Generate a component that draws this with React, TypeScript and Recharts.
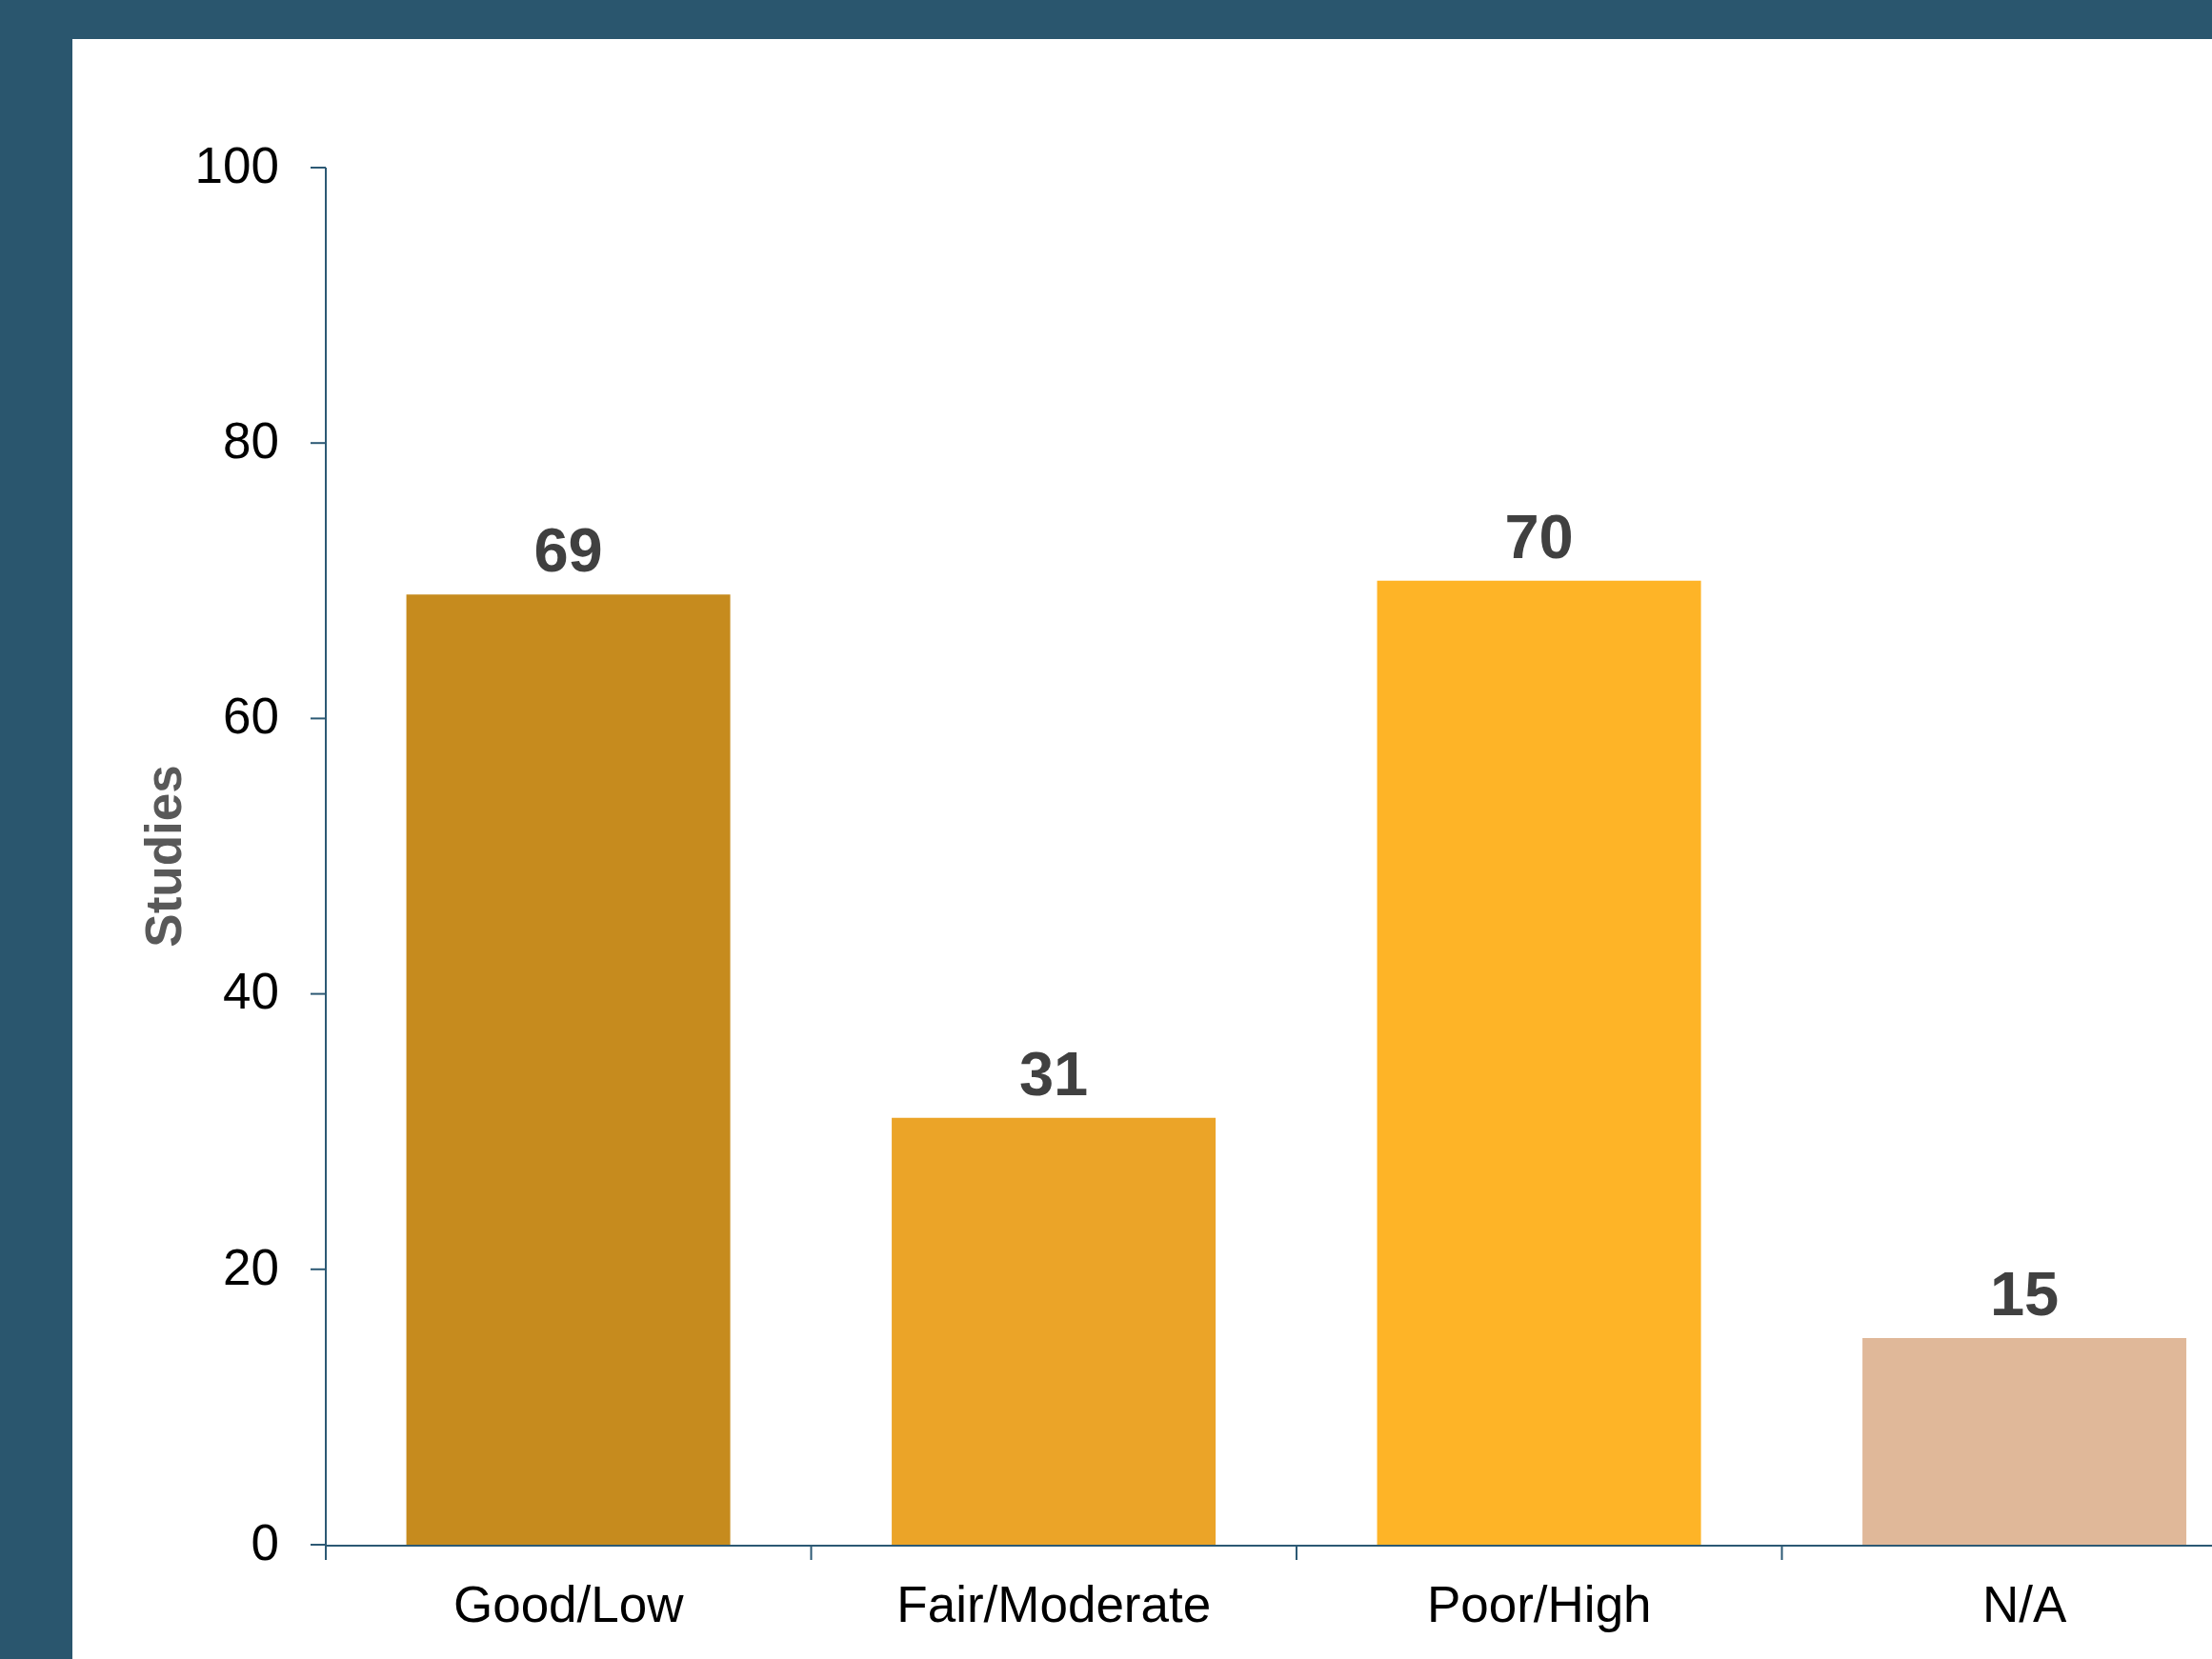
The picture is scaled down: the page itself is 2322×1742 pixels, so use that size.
import React from 'react';
import { BarChart, Bar, XAxis, YAxis, Cell, LabelList, Label } from 'recharts';

const categories = ['Good/Low', 'Fair/Moderate', 'Poor/High', 'N/A'];
const studies = [69, 31, 70, 15];
const barColors = ['#C68B1E', '#EBA428', '#FEB427', '#E0B899'];
const yTicks = [0, 20, 40, 60, 80, 100];
const edgeTicks = categories.map((_, i) => i).concat([categories.length]);

const data = categories.map((c, i) => ({ category: c, studies: studies[i], slot: i }));

const FONT = '"Liberation Sans", Arial, Helvetica, sans-serif';
const AXIS = '#2C5974';
const FRAME = '#2A566E';

const EmptyTick = () => <g />;

export default function App() {
  return (
    <div
      style={{
        position: 'fixed',
        left: 0,
        top: 0,
        width: 2322,
        height: 1742,
        overflow: 'hidden',
        background: FRAME,
      }}
    >
      <div style={{ position: 'absolute', left: 76, top: 41, right: 0, bottom: 0, background: '#FFFFFF' }} />
      <div style={{ position: 'absolute', left: 0, top: 0 }}>
        <BarChart
          width={2400}
          height={1742}
          data={data}
          margin={{ top: 176, right: 20, bottom: 40, left: 0 }}
          barCategoryGap="16.6%"
        >
          <XAxis
            xAxisId="a"
            dataKey="slot"
            type="number"
            domain={[0, categories.length]}
            allowDataOverflow
            ticks={edgeTicks}
            tick={EmptyTick}
            axisLine={false}
            tickLine={{ stroke: AXIS, strokeWidth: 2 }}
            tickSize={16}
            height={1}
          />
          <XAxis
            xAxisId="b"
            dataKey="category"
            type="category"
            height={79}
            axisLine={{ stroke: AXIS, strokeWidth: 2 }}
            tickLine={false}
            tickSize={16}
            tickMargin={26}
            interval={0}
            tick={{ fill: '#000000', fontSize: 53, fontFamily: FONT }}
          />
          <YAxis
            type="number"
            domain={[0, 100]}
            ticks={yTicks}
            width={342}
            axisLine={{ stroke: AXIS, strokeWidth: 2 }}
            tickLine={{ stroke: AXIS, strokeWidth: 2 }}
            tickSize={16}
            tickMargin={33}
            tick={{ fill: '#000000', fontSize: 53, fontFamily: FONT, dy: -3 }}
          >
            <Label
              value="Studies"
              angle={-90}
              position="center"
              fill="#595959"
              fontSize={53}
              fontWeight="bold"
              fontFamily={FONT}
            />
          </YAxis>
          <Bar xAxisId="b" dataKey="studies" isAnimationActive={false}>
            {data.map((d, i) => (
              <Cell key={d.category} fill={barColors[i]} />
            ))}
            <LabelList
              dataKey="studies"
              position="top"
              offset={24}
              fill="#404040"
              fontSize={65}
              fontWeight="bold"
              fontFamily={FONT}
            />
          </Bar>
        </BarChart>
      </div>
    </div>
  );
}
